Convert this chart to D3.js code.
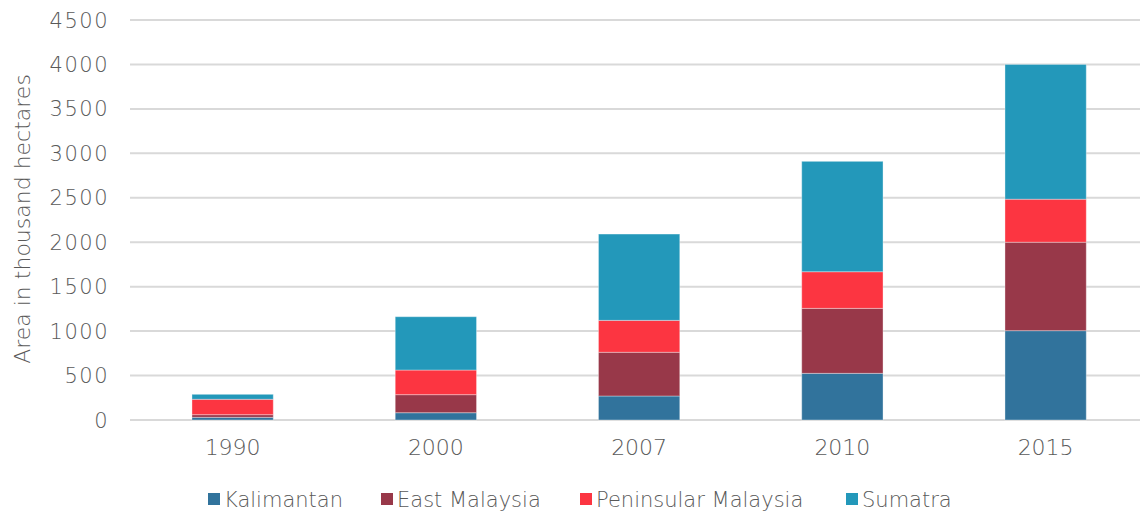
<!doctype html>
<html>
<head>
<meta charset="utf-8">
<script src="https://d3js.org/d3.v7.min.js"></script>
<style>
  body { margin: 0; background: #fff; }
  text { font-family: "DejaVu Sans", sans-serif; font-weight: 200; fill: #595959; }
</style>
</head>
<body>
<svg width="1140" height="512"></svg>
<script>
// data (thousand hectares)
var years = ["1990", "2000", "2007", "2010", "2015"];
var seriesNames = ["Kalimantan", "East Malaysia", "Peninsular Malaysia", "Sumatra"];
var kalimantan = [30, 82, 270, 525, 1005];
var eastMalaysia = [30, 203, 492, 731, 995];
var peninsular = [173, 277, 359, 412, 484];
var sumatra = [56, 600, 971, 1242, 1516];
var yTicks = [0, 500, 1000, 1500, 2000, 2500, 3000, 3500, 4000, 4500];
var colors = ["#31739c", "#983849", "#fc3541", "#2398ba"];

var svg = d3.select("svg");

var rows = years.map(function(y, i) {
  return { year: y, "Kalimantan": kalimantan[i], "East Malaysia": eastMalaysia[i],
           "Peninsular Malaysia": peninsular[i], "Sumatra": sumatra[i] };
});
var stacked = d3.stack().keys(seriesNames)(rows);

var x = d3.scaleBand().domain(years).range([131, 1147.25]).paddingInner(0.6).paddingOuter(0.3);
var y = d3.scaleLinear().domain([0, 4500]).range([420, 20]);
var color = d3.scaleOrdinal().domain(seriesNames).range(colors);

// gridlines
svg.append("g").selectAll("line")
  .data(yTicks).enter().append("line")
  .attr("x1", 130).attr("x2", 1140)
  .attr("y1", function(d) { return y(d); })
  .attr("y2", function(d) { return y(d); })
  .attr("stroke", "#d9d9d9")
  .attr("stroke-width", 2);

// y tick labels
svg.append("g").selectAll("text")
  .data(yTicks).enter().append("text")
  .attr("x", 109)
  .attr("y", function(d) { return y(d); })
  .attr("dy", "0.36em")
  .attr("text-anchor", "end")
  .attr("font-size", 21)
  .attr("letter-spacing", 1.5)
  .text(function(d) { return d; });

// axis title
svg.append("text")
  .attr("transform", "translate(30,219) rotate(-90)")
  .attr("text-anchor", "middle")
  .attr("font-size", 22)
  .text("Area in thousand hectares");

// bars
svg.append("g").selectAll("g")
  .data(stacked).enter().append("g")
  .attr("fill", function(d) { return color(d.key); })
  .selectAll("rect")
  .data(function(d) { return d; }).enter().append("rect")
  .attr("x", function(d) { return x(d.data.year); })
  .attr("y", function(d) { return y(d[1]); })
  .attr("width", x.bandwidth())
  .attr("height", function(d) { return y(d[0]) - y(d[1]); })
  .attr("stroke", "rgba(255,255,255,0.35)")
  .attr("stroke-width", 1);

// x labels
svg.append("g").selectAll("text")
  .data(years).enter().append("text")
  .attr("x", function(d) { return x(d) + x.bandwidth() / 2; })
  .attr("y", 455)
  .attr("text-anchor", "middle")
  .attr("font-size", 22)
  .text(function(d) { return d; });

// legend
var legendX = [208, 381, 580, 846];
var legend = svg.append("g").selectAll("g")
  .data(seriesNames).enter().append("g")
  .attr("transform", function(d, i) { return "translate(" + legendX[i] + ",0)"; });
legend.append("rect")
  .attr("x", 0).attr("y", 493)
  .attr("width", 12).attr("height", 12)
  .attr("fill", function(d) { return color(d); });
legend.append("text")
  .attr("x", 16).attr("y", 499)
  .attr("dy", "0.36em")
  .attr("font-size", 21)
  .text(function(d) { return d; });
</script>
</body>
</html>
